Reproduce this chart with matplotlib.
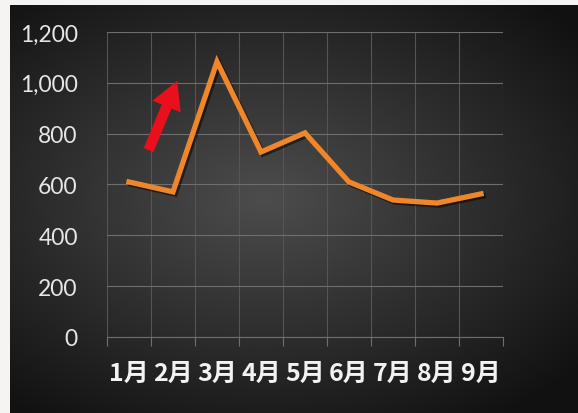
import numpy as np
import matplotlib
matplotlib.use("Agg")
import matplotlib.pyplot as plt
import matplotlib.patheffects as pe

# 폰트 설정
plt.rcParams['font.family'] = ['Lato', 'Noto Sans CJK SC', 'DejaVu Sans']

# 데이터
months = ["1月", "2月", "3月", "4月", "5月", "6月", "7月", "8月", "9月"]
values = [610, 571, 1083, 728, 803, 610, 539, 527, 563]
y_ticks = [0, 200, 400, 600, 800, 1000, 1200]
y_labels = ["0", "200", "400", "600", "800", "1,000", "1,200"]

W, H = 578, 414
fig = plt.figure(figsize=(W / 100, H / 100), dpi=100, facecolor="#f6f4f2")

# 배경 (방사형 그라데이션)
bg = fig.add_axes([10 / W, 0, 1 - 10 / W, 1 - 6 / H])
gx, gy = np.meshgrid(np.linspace(-1, 1, 400), np.linspace(-1, 1, 300))
r = np.sqrt(((gx + 0.1) * 0.95) ** 2 + ((gy + 0.05) * 1.05) ** 2)
shade = np.clip(0.30 - 0.17 * r, 0.07, 0.30)
bg.imshow(np.dstack([shade, shade, shade]), aspect="auto", extent=[0, 1, 0, 1])
bg.set_axis_off()

# 그래프 영역
ax = fig.add_axes([107 / W, 1 - 338 / H, (503 - 107) / W, (338 - 33) / H])
ax.patch.set_alpha(0)
x = np.arange(len(months))

ax.plot(x, values, color="#f0862a", lw=3.8, solid_joinstyle="miter", zorder=5,
        path_effects=[pe.SimpleLineShadow(offset=(1.5, -1.5), shadow_color="black", alpha=0.5),
                      pe.Normal()])

ax.set_xlim(-0.5, len(months) - 0.5)
ax.set_ylim(0, 1200)

# 눈금
ax.set_xticks(x)
ax.set_xticklabels(months, family=['Noto Sans CJK SC', 'DejaVu Sans'],
                   fontsize=18, fontweight="bold", color="#f2f2f2")
ax.set_xticks(np.arange(-0.5, len(months)), minor=True)
ax.tick_params(axis="x", which="major", length=0, pad=17)
ax.tick_params(axis="x", which="minor", length=6.5, color="#707070", width=0.8)

ax.set_yticks(y_ticks)
ax.set_yticklabels(y_labels, fontsize=16.5, color="#e6e6e6")
ax.tick_params(axis="y", length=0, pad=21)

# 격자
ax.grid(True, axis="y", color="#6e6e6e", lw=0.8)
ax.grid(True, axis="x", which="minor", color="#6e4f30", lw=0.8)
ax.set_axisbelow(True)
for side in ["top", "right", "left"]:
    ax.spines[side].set_visible(False)
ax.spines["bottom"].set_color("#6e6e6e")
ax.spines["bottom"].set_linewidth(0.8)

# 빨간 화살표
ax.annotate("", xy=(1.12, 1018), xytext=(0.42, 725),
            arrowprops=dict(arrowstyle="simple,head_width=1.1,head_length=1.0,tail_width=0.38",
                            mutation_scale=20, color="#e8101c", lw=0))

fig.savefig("out.png", dpi=100, facecolor=fig.get_facecolor())
